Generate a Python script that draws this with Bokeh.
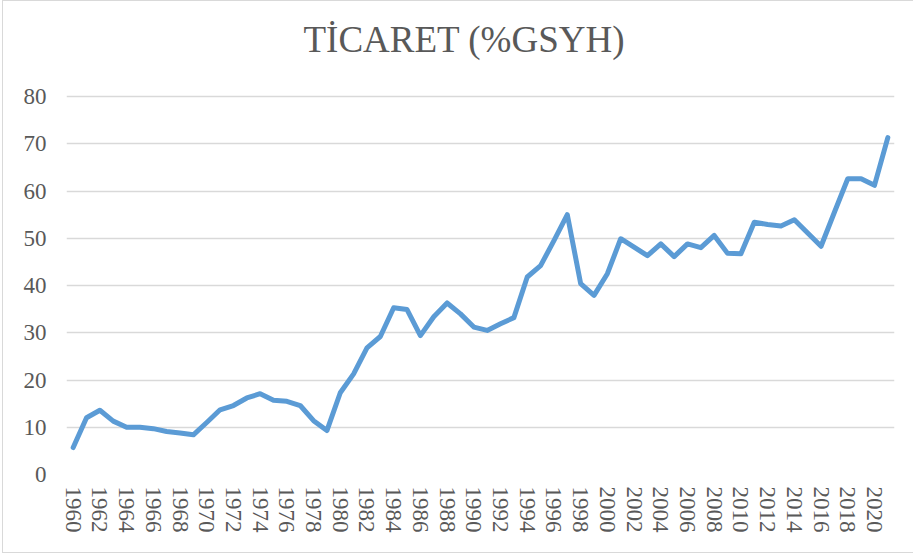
from bokeh.plotting import figure
from bokeh.models import Range1d, FixedTicker, ColumnDataSource, InlineStyleSheet
from bokeh.embed import file_html
from bokeh.resources import INLINE

years = list(range(1960, 2022))
trade = [5.7, 12.0, 13.6, 11.3, 10.0, 10.0, 9.7, 9.1, 8.8, 8.4,
         11.0, 13.7, 14.6, 16.2, 17.1, 15.7, 15.5, 14.6, 11.4, 9.3,
         17.3, 21.3, 26.8, 29.2, 35.3, 34.9, 29.4, 33.4, 36.3, 34.0,
         31.2, 30.5, 31.9, 33.2, 41.8, 44.2, 49.5, 55.0, 40.4, 37.9,
         42.5, 49.9, 48.1, 46.3, 48.8, 46.1, 48.8, 48.0, 50.6, 46.8,
         46.7, 53.4, 52.9, 52.6, 53.9, 51.1, 48.3, 55.5, 62.6, 62.6,
         61.2, 71.3]
x_ticks = list(range(1960, 2021, 2))
y_ticks = [0, 10, 20, 30, 40, 50, 60, 70, 80]
title_text = "TİCARET (%GSYH)"

src = ColumnDataSource(dict(year=years, value=trade))

TXT = "#595959"
FONT = "Liberation Serif"

# frame spans 64..474 px vertically; the 80 gridline sits at 96 px
y_top = 80 * (474 - 64) / (474 - 96)

p = figure(width=913, height=555, output_backend="svg", toolbar_location=None,
           x_range=Range1d(1959.5, 2021.5), y_range=Range1d(0, y_top),
           title=title_text, min_border_left=66, min_border_right=19,
           min_border_top=64, min_border_bottom=81)

p.line("year", "value", source=src, line_color="#5B9BD5", line_width=5,
       line_cap="round", line_join="round")

p.title.align = "left"
p.title.offset = 237
p.title.vertical_align = "bottom"
p.title.text_font = FONT
p.title.text_font_size = "37px"
p.title.text_font_style = "normal"
p.title.text_color = TXT
p.title.standoff = 10

p.outline_line_color = None
p.xgrid.grid_line_color = None
p.ygrid.grid_line_color = "#d9d9d9"
p.ygrid.grid_line_width = 1.5

p.xaxis.ticker = FixedTicker(ticks=x_ticks)
p.yaxis.ticker = FixedTicker(ticks=y_ticks)
for ax in (p.xaxis[0], p.yaxis[0]):
    ax.axis_line_color = None
    ax.major_tick_line_color = None
    ax.minor_tick_line_color = None
    ax.major_tick_out = 0
    ax.major_tick_in = 0
    ax.major_label_text_font = FONT
    ax.major_label_text_font_size = "23px"
    ax.major_label_text_color = TXT
p.xaxis.major_label_orientation = "vertical"
p.xaxis.major_label_standoff = 12
p.yaxis.major_label_standoff = 20

frame_css = InlineStyleSheet(css="""
:host { position: relative; }
:host::after {
  content: ""; position: absolute; top: 0px; left: 2px; right: 0px; bottom: 2px;
  border: 1.5px solid #d9d9d9; border-right: none;
  pointer-events: none; z-index: 1000;
}
""")
p.stylesheets = [frame_css]

open("out.html", "w").write(file_html(p, INLINE))
